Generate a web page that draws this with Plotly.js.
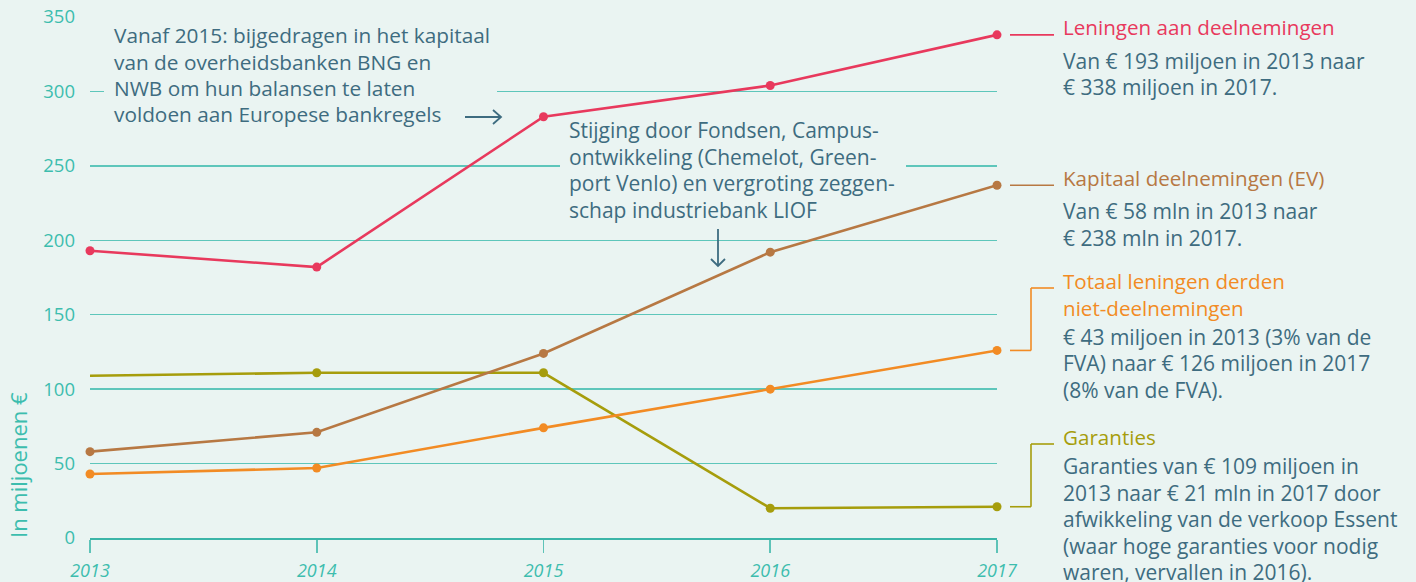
<!DOCTYPE html>
<html>
<head>
<meta charset="utf-8">
<script src="https://cdn.plot.ly/plotly-3.0.1.min.js"></script>
<style>
html,body{margin:0;padding:0;background:#eaf4f2;}
#chart{width:1416px;height:582px;}
</style>
</head>
<body>
<div id="chart"></div>
<script>
// ---- data ----
const years = [2013, 2014, 2015, 2016, 2017];
const leningenDeelnemingen = [193, 182, 283, 304, 338];
const kapitaalDeelnemingen = [58, 71, 124, 192, 237];
const leningenDerden = [43, 47, 74, 100, 126];
const garanties = [109, 111, 111, 20, 21];
const yTicks = [0, 50, 100, 150, 200, 250, 300, 350];
const xTickLabels = ['2013', '2014', '2015', '2016', '2017'];

const seriesNames = [
  'Leningen aan deelnemingen',
  'Kapitaal deelnemingen (EV)',
  'Totaal leningen derden<br>niet-deelnemingen',
  'Garanties'
];
const seriesNotes = [
  ['Van € 193 miljoen in 2013 naar', '€ 338 miljoen in 2017.'],
  ['Van € 58 mln in 2013 naar', '€ 238 mln in 2017.'],
  ['€ 43 miljoen in 2013 (3% van de', 'FVA) naar € 126 miljoen in 2017', '(8% van de FVA).'],
  ['Garanties van € 109 miljoen in', '2013 naar € 21 mln in 2017 door', 'afwikkeling van de verkoop Essent', '(waar hoge garanties voor nodig', 'waren, vervallen in 2016).']
];
const note2015 = ['Vanaf 2015: bijgedragen in het kapitaal', 'van de overheidsbanken BNG en', 'NWB om hun balansen te laten', 'voldoen aan Europese bankregels'];
const note2016 = ['Stijging door Fondsen, Campus-', 'ontwikkeling (Chemelot, Green-', 'port Venlo) en vergroting zeggen-', 'schap industriebank LIOF'];

// ---- style ----
const BG = '#eaf4f2';
const TEAL = '#3dbdae';
const GRID = '#5ec6bb';
const TEXT = '#3e6c80';
const RED = '#e8395d', BROWN = '#b77843', ORANGE = '#f28b24', OLIVE = '#a69d0c';
const FONT = '"Open Sans", Lato, sans-serif';
const LH = 26.5; // line height in px

const W = 1416, H = 582;
const L = 90, R = 419, T = 17, B = 44;
const plotW = W - L - R, plotH = H - T - B;
// pixel helpers for placing annotations (paper coordinates)
const px2p = px => (px - L) / plotW;
const py2p = py => (H - B - py) / plotH;

function trace(vals, color, opac) {
  return {
    x: years, y: vals, type: 'scatter', mode: 'lines+markers',
    line: {color: color, width: 2.6},
    marker: {color: color, size: 9, opacity: opac || 1},
    cliponaxis: false, hoverinfo: 'x+y', showlegend: false
  };
}

const data = [
  trace(garanties, OLIVE, [0, 1, 1, 1, 1]),
  trace(leningenDerden, ORANGE),
  trace(kapitaalDeelnemingen, BROWN),
  trace(leningenDeelnemingen, RED)
];

const shapes = [];
const annotations = [];

function addLines(lines, pxLeft, pyFirstCenter, color, size) {
  lines.forEach((t, k) => {
    annotations.push({xref: 'paper', yref: 'paper', x: px2p(pxLeft), y: py2p(pyFirstCenter + k * LH),
      xanchor: 'left', yanchor: 'middle', align: 'left', showarrow: false,
      text: t, font: {family: FONT, size: size, color: color}});
  });
}
function addBox(x0, y0, x1, y1) {
  annotations.push({xref: 'paper', yref: 'paper', x: px2p(x0), y: py2p(y0),
    xanchor: 'left', yanchor: 'top', showarrow: false, text: ' ',
    width: x1 - x0, height: y1 - y0, bgcolor: BG, borderpad: 0, borderwidth: 0});
}

// background boxes behind the notes (hide gridlines where text sits)
addBox(104, 78, 497, 104);
addBox(560, 152, 906, 180);

const colors = [RED, BROWN, ORANGE, OLIVE];
const lastVals = [leningenDeelnemingen[4], kapitaalDeelnemingen[4], leningenDerden[4], garanties[4]];
const titleY = [28, 179, 282, 438];
const noteY = [61, 211, 337, 466];
const x1 = px2p(1010), xm = px2p(1031), x2 = px2p(1054);
lastVals.forEach((v, i) => {
  const ty = py2p(titleY[i] + 6);
  if (i < 2) {
    shapes.push({type: 'line', xref: 'paper', yref: 'y', x0: x1, x1: x2, y0: v, y1: v,
      line: {color: colors[i], width: 1.6}});
  } else {
    shapes.push({type: 'line', xref: 'paper', yref: 'y', x0: x1, x1: xm, y0: v, y1: v,
      line: {color: colors[i], width: 1.6}});
    shapes.push({type: 'line', xref: 'paper', yref: 'y', x0: xm, x1: xm, y0: v, y1: ty * 350,
      line: {color: colors[i], width: 1.6}});
    shapes.push({type: 'line', xref: 'paper', yref: 'paper', x0: xm, x1: x2, y0: ty, y1: ty,
      line: {color: colors[i], width: 1.6}});
  }
  annotations.push({xref: 'paper', yref: 'paper', x: px2p(1061), y: py2p(titleY[i] - 17),
    xanchor: 'left', yanchor: 'top', align: 'left', showarrow: false,
    text: seriesNames[i], font: {family: FONT, size: 20.6, color: colors[i]}});
  addLines(seriesNotes[i], 1061, noteY[i], TEXT, 21);
});

addLines(note2015, 112, 35, TEXT, 20.8);
addLines(note2016, 567, 130, TEXT, 21);

// arrows
const arrowLine = {color: TEXT, width: 1.8};
shapes.push({type: 'line', xref: 'paper', yref: 'paper', x0: px2p(465), x1: px2p(501), y0: py2p(117), y1: py2p(117), line: arrowLine});
shapes.push({type: 'path', xref: 'paper', yref: 'paper',
  path: `M ${px2p(493)} ${py2p(110)} L ${px2p(501)} ${py2p(117)} L ${px2p(493)} ${py2p(124)}`, line: arrowLine});
shapes.push({type: 'line', xref: 'paper', yref: 'paper', x0: px2p(718), x1: px2p(718), y0: py2p(229), y1: py2p(266), line: arrowLine});
shapes.push({type: 'path', xref: 'paper', yref: 'paper',
  path: `M ${px2p(711)} ${py2p(259)} L ${px2p(718)} ${py2p(266)} L ${px2p(725)} ${py2p(259)}`, line: arrowLine});

// y axis title
annotations.push({xref: 'paper', yref: 'paper', x: px2p(18), y: py2p(465),
  xanchor: 'center', yanchor: 'middle', textangle: -90, showarrow: false,
  text: 'In miljoenen €', font: {family: FONT, size: 22, color: TEAL}});

const layout = {
  width: W, height: H,
  margin: {l: L, r: R, t: T, b: B, pad: 0},
  paper_bgcolor: BG, plot_bgcolor: BG,
  font: {family: FONT, color: TEAL},
  xaxis: {
    range: [2013, 2017], tickvals: years, ticktext: xTickLabels,
    showgrid: false, zeroline: false, showline: true, linecolor: '#3bb5a8', linewidth: 1.6,
    ticks: 'outside', ticklen: 13, tickwidth: 1.6, tickcolor: '#5ec3b8',
    tickfont: {family: FONT, size: 18, color: TEAL, style: 'italic'},
    ticklabelstandoff: 3, fixedrange: true
  },
  yaxis: {
    range: [0, 350], tickvals: yTicks, ticktext: yTicks.map(String),
    showgrid: true, gridcolor: GRID, gridwidth: 1.3, zeroline: false, showline: false,
    ticks: '', tickfont: {family: FONT, size: 18.5, color: TEAL}, ticklabelstandoff: 14,
    fixedrange: true
  },
  shapes: shapes,
  annotations: annotations,
  hovermode: false
};

Plotly.newPlot('chart', data, layout, {displayModeBar: false, staticPlot: true});
</script>
</body>
</html>
